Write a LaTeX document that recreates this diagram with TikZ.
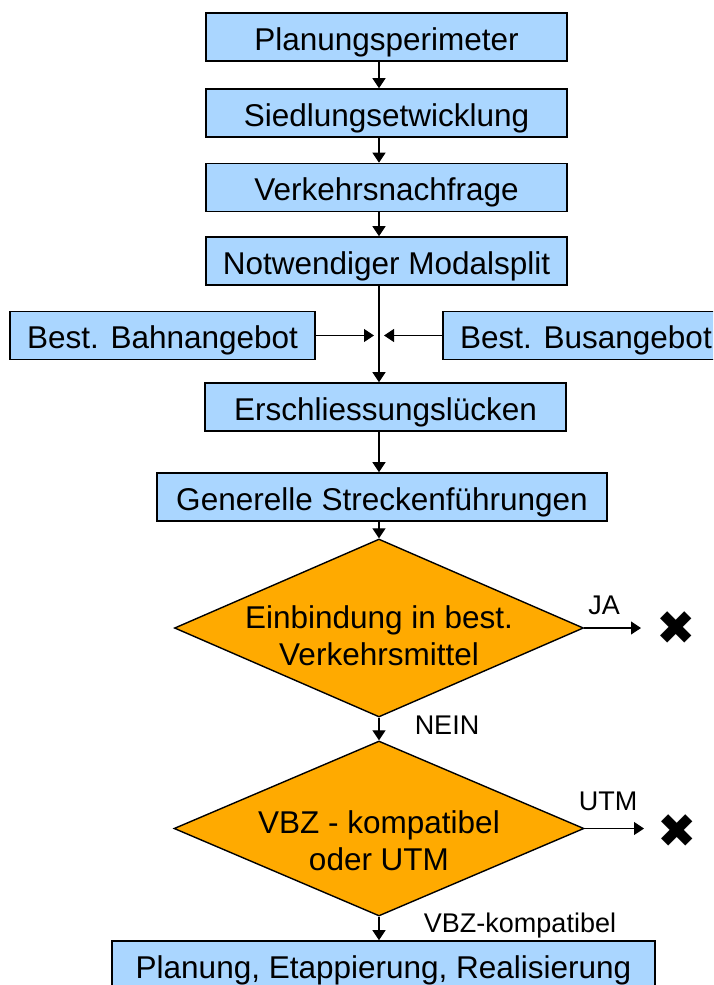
\documentclass[tikz,border=0pt]{standalone}
\usepackage{fontspec}
\setmainfont{Liberation Sans}
\newfontfamily\symfont{DejaVu Sans}
\usetikzlibrary{shapes.geometric,arrows.meta}
\definecolor{boxblue}{RGB}{170,214,255}
\definecolor{decorange}{RGB}{255,170,0}

\begin{document}
\begin{tikzpicture}[x=1pt, y=-1pt,
		box/.style={draw, line width=1.6pt, fill=boxblue, minimum height=48pt, inner sep=0pt,
			text height=30pt, text depth=4pt, font=\fontsize{31.5}{37}\selectfont},
		decision/.style={draw, line width=1.4pt, fill=decorange, diamond, inner sep=0pt},
		dtext/.style={align=center, font=\fontsize{31.5}{37}\selectfont},
		lbl/.style={anchor=base, font=\fontsize{27}{32}\selectfont},
		cross/.style={inner sep=0pt, font=\symfont\fontsize{47}{47}\selectfont},
		arr/.style={-{Triangle[width=13pt,length=10pt]}, line width=1.2pt}]
	\clip (0,0) rectangle (713,985);
	\coordinate (axis) at (379,0);

	% main column
	\node[box, minimum width=361pt] (plan) at (386.5,37) {Planungsperimeter};
	\node[box, minimum width=361pt] (sied) at (386.5,113) {Siedlungsetwicklung};
	\node[box, minimum width=361pt] (verk) at (386.5,187.5) {Verkehrsnachfrage};
	\node[box, minimum width=361pt] (modal) at (386.5,261) {Notwendiger Modalsplit};
	\node[box, minimum width=305pt] (bahn) at (162.5,335.5) {Best. Bahnangebot};
	\node[box, minimum width=286pt] (bus) at (586,335.5) {Best. Busangebot};
	\node[box, minimum width=361pt] (ersch) at (385.5,407) {Erschliessungslücken};
	\node[box, minimum width=450pt] (gen) at (382,497) {Generelle Streckenführungen};

	% decisions
	\node[decision, minimum width=409pt, minimum height=178pt,
		label={[dtext, yshift=-8pt]center:{Einbindung in best.\\Verkehrsmittel}}] (dec1) at (379,628) {};
	\node[decision, minimum width=410pt, minimum height=175pt,
		label={[dtext, yshift=-12pt]center:{VBZ - kompatibel\\oder UTM}}] (dec2) at (379,828.5) {};
	\node[box, minimum width=543pt] (real) at (383.5,965) {Planung, Etappierung, Realisierung};

	\node[lbl] (ja) at (604,614) {JA};
	\node[lbl] (nein) at (447,734) {NEIN};
	\node[lbl] (utm) at (608,810) {UTM};
	\node[lbl] (vbz) at (520,932) {VBZ-kompatibel};
	\node[cross] (nox1) at (676,628) {✖};
	\node[cross] (nox2) at (677,831) {✖};

	\coordinate (bahnin) at (374,335.5);
	\coordinate (busin) at (384,335.5);
	\coordinate (jaend) at (641,628);
	\coordinate (utmend) at (644,828.5);

	% connectors
	\foreach \a/\b in {plan/sied, sied/verk, verk/modal, modal/ersch, ersch/gen}
		\draw[arr] (\a.south -| axis) -- (\b.north -| axis);
	\draw[arr] (bahn.east) -- (bahnin);
	\draw[arr] (bus.west) -- (busin);
	\draw[arr] (gen.south -| axis) -- (dec1.north);
	\draw[arr] (dec1.south) -- (dec2.north);
	\draw[arr] (dec2.south) -- (real.north -| axis);
	\draw[arr] (dec1.east) -- (jaend);
	\draw[arr] (dec2.east) -- (utmend);
\end{tikzpicture}
\end{document}
